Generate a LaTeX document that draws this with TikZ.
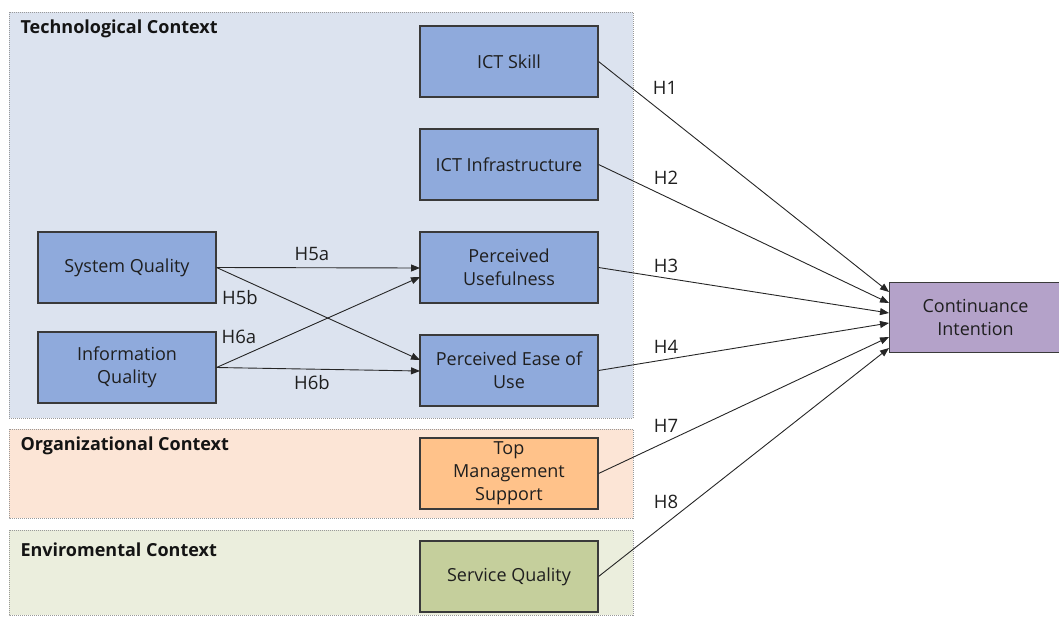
\documentclass[tikz,border=0pt]{standalone}
\usepackage{fontspec}
\setmainfont{Open Sans}
\usetikzlibrary{arrows.meta,calc}
\definecolor{techbg}{HTML}{DCE3EF}
\definecolor{orgbg}{HTML}{FCE5D6}
\definecolor{envbg}{HTML}{EBEEDD}
\definecolor{bluebox}{HTML}{8FAADC}
\definecolor{orangebox}{HTML}{FFC28A}
\definecolor{greenbox}{HTML}{C5CF9C}
\definecolor{purplebox}{HTML}{B4A2C9}
\definecolor{edge}{HTML}{3A3A3A}
\tikzset{
  panel/.style={draw=gray!80, line width=0.8pt, dash pattern=on 1pt off 1pt},
  cbox/.style={draw=edge, line width=1.1pt, minimum width=178pt, minimum height=71pt,
    align=center, inner sep=2pt, font=\fontsize{18}{23}\selectfont, text=black!88},
  ptitle/.style={anchor=west, font=\fontsize{18}{20}\selectfont\bfseries, text=black!92},
  hlab/.style={font=\fontsize{18.5}{22}\selectfont, text=black!88, inner sep=0pt},
  link/.style={draw=black!85, line width=0.9pt, -{Triangle[length=9pt,width=7pt]}}
}
\begin{document}
\begin{tikzpicture}[x=1pt,y=-1pt]
\useasboundingbox (0,0) rectangle (1059,616);
\clip (0,0) rectangle (1059,616);

% context panels
\path[panel, fill=techbg] (9,12) rectangle (633,418);
\path[panel, fill=orgbg] (9,429) rectangle (633,518);
\path[panel, fill=envbg] (9,530) rectangle (633,615);
\node[ptitle] (ttech) at (17,29) {Technological Context};
\node[ptitle] (torg) at (17,446) {Organizational Context};
\node[ptitle] (tenv) at (17,550) {Enviromental Context};

% constructs
\node[cbox, fill=bluebox] (skill) at (509,61.5) {ICT Skill};
\node[cbox, fill=bluebox] (infra) at (509,164.5) {ICT Infrastructure};
\node[cbox, fill=bluebox] (pu) at (509,267.5) {Perceived\\Usefulness};
\node[cbox, fill=bluebox] (peu) at (509,370.5) {Perceived Ease of\\Use};
\node[cbox, fill=bluebox] (sysq) at (127,267.5) {System Quality};
\node[cbox, fill=bluebox] (infq) at (127,367.5) {Information\\Quality};
\node[cbox, fill=orangebox] (tms) at (509,473.5) {Top\\Management\\Support};
\node[cbox, fill=greenbox] (servq) at (509,576.5) {Service Quality};
\node[cbox, fill=purplebox, minimum width=180pt, minimum height=70pt, anchor=north west, text width=176pt]
  (ci) at (889,282) {\hspace*{-8pt}Continuance\\\hspace*{-8pt}Intention};

% entry points on the outcome and mediators
\coordinate (ci1) at (889,292);
\coordinate (ci2) at (889,303);
\coordinate (ci3) at (889,313);
\coordinate (ci4) at (889,323);
\coordinate (ci7) at (889,337);
\coordinate (ci8) at (889,348);
\coordinate (puA) at (420,268);
\coordinate (puB) at (420,277);
\coordinate (peuA) at (420,360);
\coordinate (peuB) at (420,371);

% hypothesised paths
\draw[link] (skill.east) -- (ci1);
\draw[link] (infra.east) -- (ci2);
\draw[link] (pu.east) -- (ci3);
\draw[link] (peu.east) -- (ci4);
\draw[link] (tms.east) -- (ci7);
\draw[link] (servq.east) -- (ci8);
\draw[link] (sysq.east) -- (puA);
\draw[link] (sysq.east) -- (peuA);
\draw[link] (infq.east) -- (puB);
\draw[link] (infq.east) -- (peuB);

% path labels
\node[hlab] (h1) at (665,88) {H1};
\node[hlab] (h2) at (666,178) {H2};
\node[hlab] (h3) at (666,266) {H3};
\node[hlab] (h4) at (666,347) {H4};
\node[hlab] (h7) at (666,426) {H7};
\node[hlab] (h8) at (666,502) {H8};
\node[hlab] (h5a) at (312,254) {H5a};
\node[hlab] (h5b) at (240,298) {H5b};
\node[hlab] (h6a) at (239,337) {H6a};
\node[hlab] (h6b) at (312,383) {H6b};
\end{tikzpicture}
\end{document}
